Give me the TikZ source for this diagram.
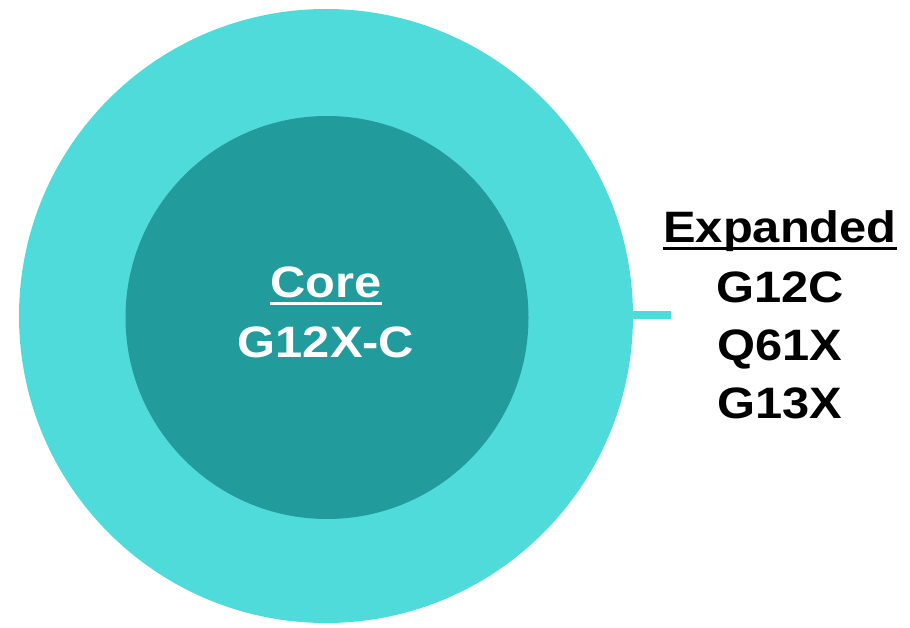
\documentclass[tikz,border=0pt]{standalone}
\usepackage{fontspec}
\setmainfont{Liberation Sans}
\newfontfamily\widefont[FakeStretch=1.11]{Liberation Sans}
\definecolor{outerc}{HTML}{50DBDB}
\definecolor{innerc}{HTML}{219B9B}
\newcommand\thickul[1]{\setbox0\hbox{#1}\rlap{\rule[-7pt]{\wd0}{3pt}}\box0}
\begin{document}
\begin{tikzpicture}[x=1pt,y=-1pt,
  lbl/.style={font=\widefont\fontsize{44}{57}\selectfont\bfseries, align=center, inner sep=0pt}]
\useasboundingbox (0,0) rectangle (910,628);
\fill[outerc] (326,316) circle[radius=307];
\fill[innerc] (327,317.5) circle[radius=201.5];
\node[lbl, text=white, anchor=base] (core) at (326,298) {\thickul{Core}};
\node[lbl, text=white, anchor=base] (g) at (326,357) {G12X-C};
\coordinate (a) at (633,315);
\coordinate (b) at (671,315);
\draw[outerc, line width=8pt] (a) -- (b);
\node[lbl, text=black, anchor=base] (e1) at (780,243) {\thickul{Expanded}};
\node[lbl, text=black, anchor=base] (e2) at (780,302) {G12C};
\node[lbl, text=black, anchor=base] (e3) at (780,360) {Q61X};
\node[lbl, text=black, anchor=base] (e4) at (780,418) {G13X};
\end{tikzpicture}
\end{document}
